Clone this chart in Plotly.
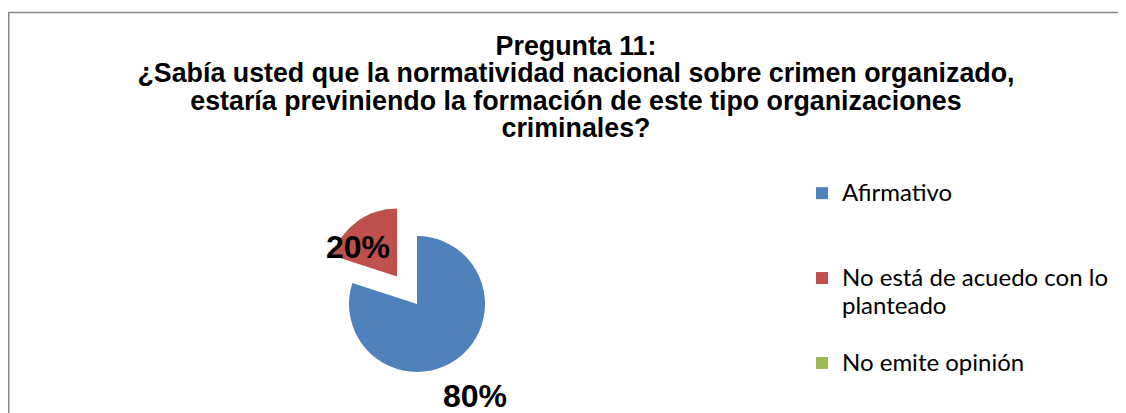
import math
import plotly.graph_objects as go

# ---- data ----
categories = ["Afirmativo", "No está de acuedo con lo<br>planteado", "No emite opinión"]
values = [80, 20, 0]
pulls = [0, 0.5, 0]
colors = ["#4F81BD", "#C0504D", "#9BBB59"]
title_lines = [
    "Pregunta 11:",
    "¿Sabía usted que la normatividad nacional sobre crimen organizado,",
    "estaría previniendo la formación de este tipo organizaciones",
    "criminales?",
]

W, H = 1126, 413
PAGE_OFF = 8  # default page margin around the figure
dom_x = [0.27265, 0.45382]
dom_y = [0.03635, 0.53025]

# legend entries: larger glyphs on a tighter line pitch, blank lines for item spacing
legend_font_px = 24
extra_lines = [2, 1, 0]
legend_labels = [
    f'<span style="font-size:{legend_font_px}px">{c}</span>' + "<br> " * n
    for c, n in zip(categories, extra_lines)
]

fig = go.Figure()
fig.add_trace(go.Pie(
    labels=legend_labels,
    values=values,
    pull=pulls,
    marker=dict(colors=colors, line=dict(width=0)),
    sort=False,
    direction="clockwise",
    rotation=0,
    textinfo="none",
    hoverinfo="percent",
    domain=dict(x=dom_x, y=dom_y),
    showlegend=True,
))

# ---- data labels, placed from the slice angles ----
cx = W * (dom_x[0] + dom_x[1]) / 2
cy = H * (1 - (dom_y[0] + dom_y[1]) / 2)
r = min(W * (dom_x[1] - dom_x[0]), H * (dom_y[1] - dom_y[0])) / 2 / (1 + max(pulls))
label_dist = [1.63, 0.72, 1.2]
label_shift = [(-7, -2), (-10, -10), (0, 0)]
total = sum(values)
cum = 0
for i, v in enumerate(values):
    frac = v / total
    mid = (cum + frac / 2) * 2 * math.pi
    cum += frac
    if v == 0:
        continue
    dx, dy = math.sin(mid), math.cos(mid)
    px = cx + dx * r * (pulls[i] + label_dist[i]) + label_shift[i][0]
    py = cy - dy * r * (pulls[i] + label_dist[i]) - label_shift[i][1]
    fig.add_annotation(
        x=px / W, y=1 - py / H, xref="paper", yref="paper",
        text=f"{round(frac * 100)}%", showarrow=False,
        font=dict(family="Liberation Sans, Arial", size=32, color="#000000", weight="bold"),
        xanchor="center", yanchor="middle",
    )

# chart-area border
fig.add_shape(type="rect", xref="paper", yref="paper",
              x0=0.75 / W, x1=1.05, y0=-0.05, y1=1 - (12.5 - PAGE_OFF) / H,
              line=dict(color="#878787", width=1.5), fillcolor="rgba(0,0,0,0)")

title_px = 26.8
fig.update_layout(
    width=W, height=H,
    margin=dict(l=0, r=0, t=0, b=0),
    paper_bgcolor="white", plot_bgcolor="white",
    title=dict(
        text="<br>".join(f'<span style="font-size:{title_px}px">{t}</span>' for t in title_lines),
        x=568 / W, xanchor="center", xref="paper",
        y=1 - 47 / H, yanchor="top", yref="container",
        font=dict(family="Liberation Sans, Arial", size=21, color="#000000", weight="bold"),
    ),
    legend=dict(
        x=794 / W, xanchor="left", y=1 - 165 / H, yanchor="top",
        font=dict(family="Lato, Open Sans", size=21, color="#000000"),
        valign="top", traceorder="normal",
        bgcolor="rgba(0,0,0,0)",
    ),
)

fig.write_html("out.html")
